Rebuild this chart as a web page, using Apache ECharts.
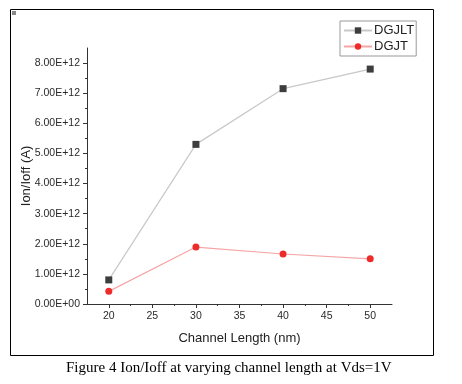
<!DOCTYPE html>
<html><head><meta charset="utf-8">
<style>html,body{margin:0;padding:0;background:#fff}#c{width:462px;height:384px}</style>
<script src="https://cdn.jsdelivr.net/npm/echarts@6/dist/echarts.min.js"></script>
</head><body><div id="c"></div>
<script>
var channelLength = [20, 30, 40, 50];
var dgjlt = [0.80e12, 5.30e12, 7.15e12, 7.80e12];
var dgjt = [0.42e12, 1.89e12, 1.66e12, 1.50e12];
var xMajor = [20, 25, 30, 35, 40, 45, 50];
var xMinor = [22.5, 27.5, 32.5, 37.5, 42.5, 47.5];
var yMajor = [0, 1e12, 2e12, 3e12, 4e12, 5e12, 6e12, 7e12, 8e12];
var yMinor = [0.5e12, 1.5e12, 2.5e12, 3.5e12, 4.5e12, 5.5e12, 6.5e12, 7.5e12];

function fmt(v) {
  var s = v.toExponential(2).toUpperCase();
  var m = s.match(/^(.*)E([+-])(\d+)$/);
  var e = m[3].length < 2 ? '0' + m[3] : m[3];
  return m[1] + 'E' + m[2] + e;
}
var tickFont = {fontFamily: 'Arial, Liberation Sans', fontSize: 10.5, color: '#2a2a2a'};
var chart = echarts.init(document.getElementById('c'));
var lineStyleAx = {color: '#333', width: 1};
chart.setOption({
  animation: false,
  grid: {left: 87, top: 48, width: 305, height: 256},
  legend: {
    left: 340, top: 21, orient: 'vertical',
    borderColor: '#999', borderWidth: 1, padding: [3, 2, 3, 3], itemGap: 3,
    itemWidth: 28, itemHeight: 8,
    textStyle: {fontFamily: 'Arial, Liberation Sans', fontSize: 13, color: '#222', padding: [0, 0, 0, -3]},
    data: ['DGJLT', 'DGJT']
  },
  xAxis: [{
    type: 'value', min: 17.5, max: 52.5,
    name: 'Channel Length (nm)', nameLocation: 'middle', nameGap: 28, nameMoveOverlap: false,
    nameTextStyle: {fontFamily: 'Arial, Liberation Sans', fontSize: 13, color: '#222'},
    axisLine: {show: true, lineStyle: lineStyleAx},
    axisTick: {show: true, length: 4, lineStyle: lineStyleAx, customValues: xMajor},
    axisLabel: Object.assign({margin: 7, customValues: xMajor}, tickFont),
    splitLine: {show: false}
  }, {
    type: 'value', min: 17.5, max: 52.5, position: 'bottom', gridIndex: 0,
    axisLine: {show: false},
    axisTick: {show: true, length: 2, lineStyle: lineStyleAx, customValues: xMinor},
    axisLabel: {show: false}, splitLine: {show: false}
  }],
  yAxis: [{
    type: 'value', min: 0, max: 8.5e12,
    name: 'Ion/Ioff (A)', nameLocation: 'middle', nameGap: 54, nameMoveOverlap: false,
    nameTextStyle: {fontFamily: 'Arial, Liberation Sans', fontSize: 13, color: '#222'},
    axisLine: {show: true, lineStyle: lineStyleAx},
    axisTick: {show: true, length: 4, lineStyle: lineStyleAx, customValues: yMajor},
    axisLabel: Object.assign({margin: 7, customValues: yMajor, formatter: fmt}, tickFont),
    splitLine: {show: false}
  }, {
    type: 'value', min: 0, max: 8.5e12, position: 'left', gridIndex: 0,
    axisLine: {show: false},
    axisTick: {show: true, length: 2, lineStyle: lineStyleAx, customValues: yMinor},
    axisLabel: {show: false}, splitLine: {show: false}
  }],
  series: [{
    name: 'DGJLT', type: 'line',
    data: channelLength.map(function (x, i) { return [x, dgjlt[i]]; }),
    symbol: 'rect', symbolSize: 7,
    lineStyle: {color: '#c8c8c8', width: 1.2},
    itemStyle: {color: '#3d3d3d'}
  }, {
    name: 'DGJT', type: 'line',
    data: channelLength.map(function (x, i) { return [x, dgjt[i]]; }),
    symbol: 'circle', symbolSize: 7,
    lineStyle: {color: '#f5a5a5', width: 1.2},
    itemStyle: {color: '#ee2b2b'}
  }],
  graphic: [
    {type: 'rect', shape: {x: 10.5, y: 9.5, width: 423, height: 346}, style: {fill: 'none', stroke: '#000', lineWidth: 1}, silent: true},
    {type: 'rect', shape: {x: 12, y: 11, width: 4, height: 4}, style: {fill: '#888'}, silent: true},
    {type: 'text', left: 66, top: 361, style: {text: 'Figure 4 Ion/Ioff at varying channel length at Vds=1V', font: '15px "Liberation Serif", "Times New Roman", serif', fill: '#000'}}
  ]
});
</script></body></html>
